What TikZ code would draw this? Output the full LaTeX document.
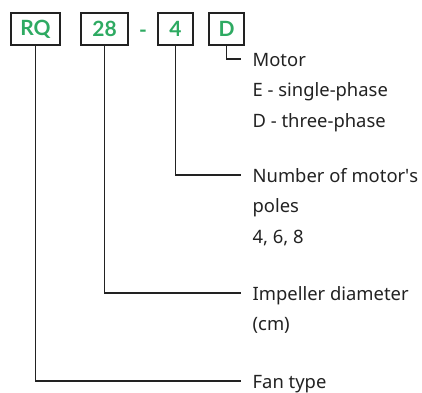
\documentclass[tikz,border=0pt]{standalone}
\usepackage{fontspec}
\setmainfont{Noto Sans}
\newfontfamily\codefont{Lato}
\usetikzlibrary{positioning}
\definecolor{codegreen}{RGB}{46,170,98}
\definecolor{inkgray}{RGB}{34,34,34}

\begin{document}
\begin{tikzpicture}[x=1pt, y=-1pt, line width=1.3pt, draw=inkgray,
        code_style/.style={draw=inkgray, line width=1.3pt, minimum height=32pt, inner sep=0pt,
            text=codegreen, font=\codefont\fontsize{21}{21}\selectfont\bfseries},
        label_style/.style={anchor=west, inner xsep=11pt, inner ysep=0pt, text=inkgray,
            text height=17pt, text depth=3pt, font=\fontsize{18.4}{18.4}\selectfont},
        more_style/.style={below=9.5pt of #1, anchor=north west, inner xsep=0pt, inner ysep=0pt,
            text=inkgray, text height=17pt, text depth=3pt, font=\fontsize{18.4}{18.4}\selectfont},
        link_style/.style={draw=inkgray, line width=1.3pt}]

        \useasboundingbox (0,0) rectangle (422,392);

        % code boxes
        \node [code_style, minimum width=49pt] (rq) at (35.5,29) {RQ};
        \node [code_style, minimum width=47pt] (diam) at (104.5,29) {28};
        \node [anchor=base, text=codegreen, font=\codefont\fontsize{21}{21}\selectfont\bfseries] (dash) at (143,37) {-};
        \node [code_style, minimum width=35pt] (poles) at (175.5,29) {4};
        \node [code_style, minimum width=35pt] (motor) at (226.5,29) {D};

        % explanations
        \node [label_style] (motortxt) at (241,59) {Motor};
        \node [more_style=motortxt.south west, xshift=11pt] (single) {E - single-phase};
        \node [more_style=single.south west] (three) {D - three-phase};

        \node [label_style] (polestxt) at (241,175) {Number of motor\textquotesingle s};
        \node [more_style=polestxt.south west, xshift=11pt] (polesword) {poles};
        \node [more_style=polesword.south west] (polesnum) {4, 6, 8};

        \node [label_style] (diamtxt) at (241,293) {Impeller diameter};
        \node [more_style=diamtxt.south west, xshift=11pt] (diamunit) {(cm)};

        \node [label_style] (fantxt) at (241,381) {Fan type};

        % connectors
        \draw [link_style] (motor.south) |- (motortxt.west);
        \draw [link_style] (poles.south) |- (polestxt.west);
        \draw [link_style] (diam.south) |- (diamtxt.west);
        \draw [link_style] (rq.south) |- (fantxt.west);

\end{tikzpicture}
\end{document}
